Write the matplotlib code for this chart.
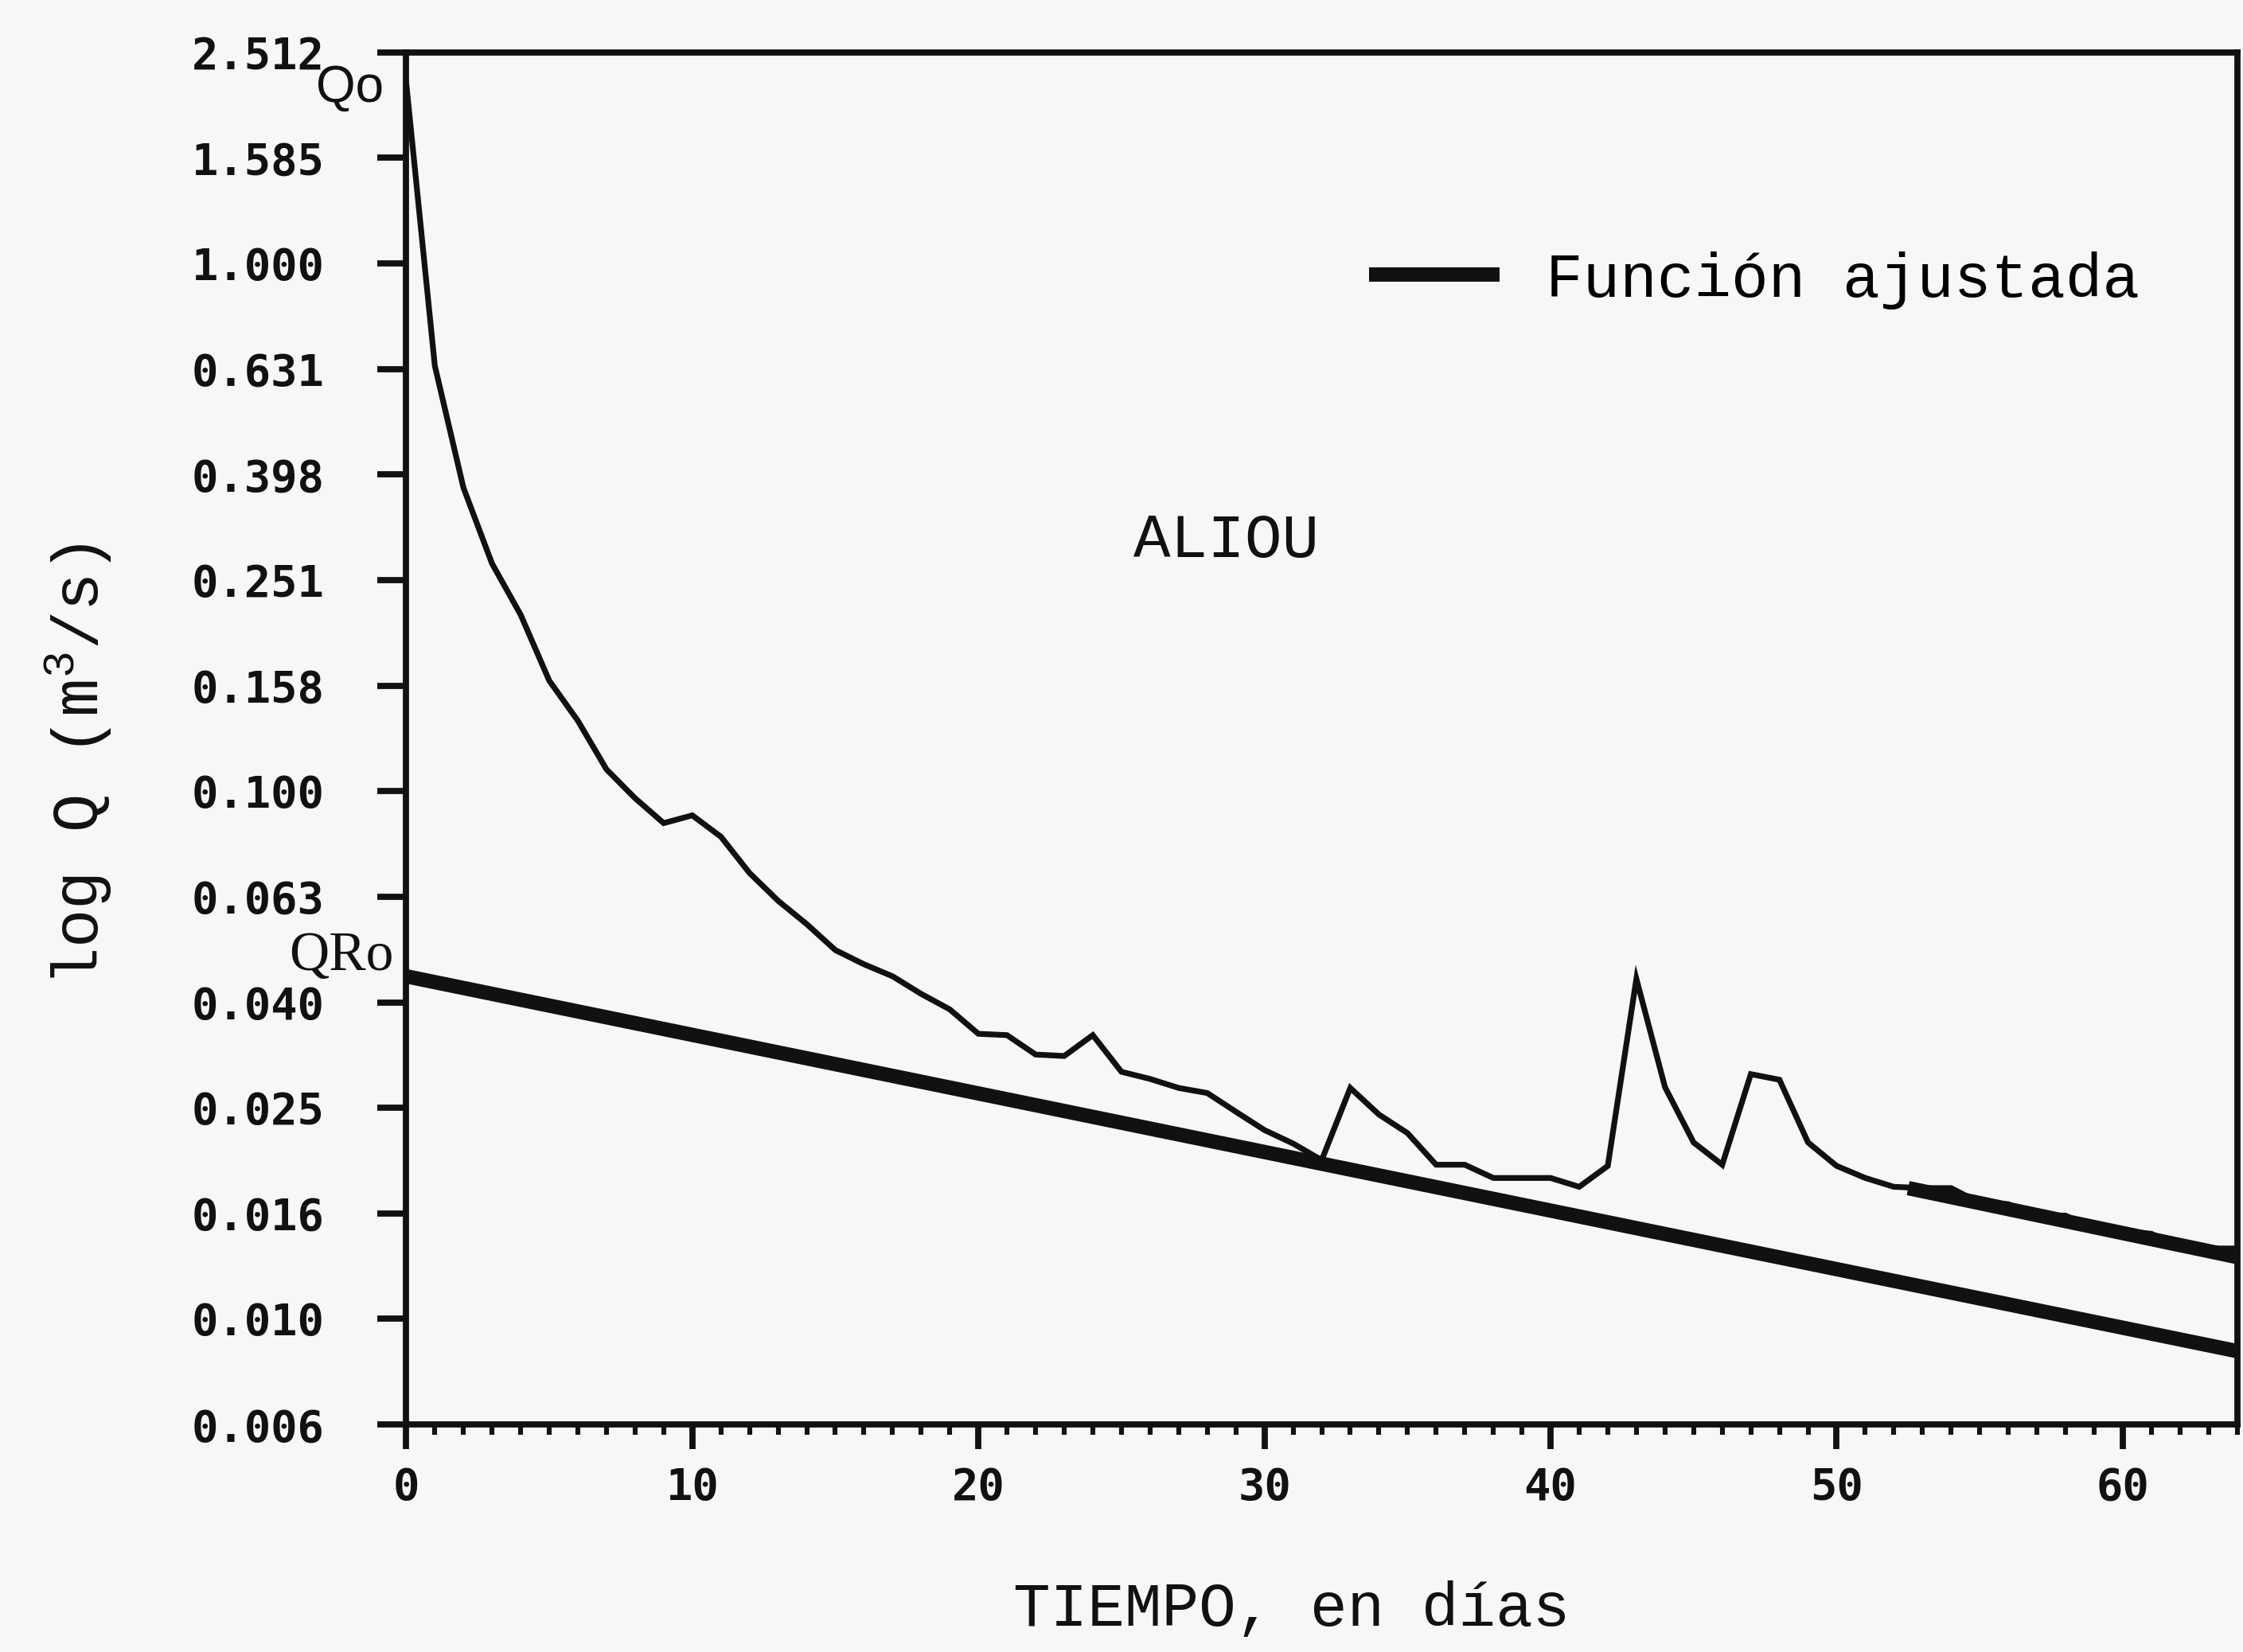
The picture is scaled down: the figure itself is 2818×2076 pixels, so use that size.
import matplotlib
matplotlib.use("Agg")
import matplotlib.pyplot as plt
from matplotlib.ticker import FixedLocator, NullLocator, MultipleLocator
import numpy as np

days = list(range(65))
caudal = [2.2, 0.64, 0.376, 0.270, 0.216, 0.162, 0.136, 0.110, 0.097, 0.087,
          0.090, 0.082, 0.070, 0.062, 0.056, 0.050, 0.047, 0.0446, 0.0413, 0.0386,
          0.0347, 0.0345, 0.0317, 0.0315, 0.0345, 0.0294, 0.0285, 0.0274, 0.0268, 0.0247,
          0.0228, 0.0215, 0.0200, 0.0274, 0.0244, 0.0225, 0.0196, 0.0196, 0.0185, 0.0185,
          0.0185, 0.0178, 0.0195, 0.0441, 0.0275, 0.0216, 0.0196, 0.0291, 0.0284, 0.0216,
          0.0195, 0.0185, 0.0178, 0.0177, 0.0177, 0.0166, 0.0165, 0.0157, 0.0157, 0.0148,
          0.0147, 0.0145, 0.0137, 0.0136, 0.0136]

# Función ajustada (recesión) y segundo tramo ajustado
fit_days = [0, 64]
fit_q = [0.0446, 0.00869]
fit2_days = [52.5, 64]
fit2_q = [0.0177, 0.0131]

y_tick_labels = ["0.006", "0.010", "0.016", "0.025", "0.040", "0.063", "0.100",
                 "0.158", "0.251", "0.398", "0.631", "1.000", "1.585", "2.512"]
x_tick_labels = ["0", "10", "20", "30", "40", "50", "60"]

plt.rcParams["mathtext.fontset"] = "custom"
plt.rcParams["mathtext.rm"] = "Liberation Mono"
plt.rcParams["mathtext.default"] = "rm"

ink = "#111111"
bg = "#f7f7f7"
fig = plt.figure(figsize=(14.09, 10.38), dpi=200, facecolor=bg)
ax = fig.add_axes([0.1811, 0.1377, 0.8163, 0.8306], facecolor=bg)

ax.plot(days, caudal, color=ink, lw=2.6, solid_joinstyle="miter")
fit_line, = ax.plot(fit_days, fit_q, color=ink, lw=6.5, solid_capstyle="butt")
ax.plot(fit2_days, fit2_q, color=ink, lw=6.5, solid_capstyle="butt")

# relleno negro entre la curva y el segundo tramo (como en el original)
d_tail = np.array(days[53:])
q_tail = np.array(caudal[53:])
q_fit2 = 10 ** np.interp(d_tail, fit2_days, np.log10(fit2_q))
ax.fill_between(d_tail, q_fit2, q_tail, where=q_tail >= q_fit2, color=ink, lw=0)

ax.set_yscale("log")
ax.set_xlim(0, 64)
ax.set_ylim(10 ** -2.2, 10 ** 0.4)

# ejes
for s in ax.spines.values():
    s.set_linewidth(2.8)
    s.set_color(ink)

yticks = 10 ** np.linspace(-2.2, 0.4, len(y_tick_labels))
ax.yaxis.set_major_locator(FixedLocator(yticks))
ax.yaxis.set_minor_locator(NullLocator())
ax.set_yticklabels(y_tick_labels)
ax.set_xticks(np.arange(0, 61, 10))
ax.set_xticklabels(x_tick_labels)
ax.xaxis.set_minor_locator(MultipleLocator(1))

for lab in ax.get_xticklabels() + ax.get_yticklabels():
    lab.set_fontfamily("DejaVu Sans Mono")
    lab.set_fontweight("bold")
    lab.set_fontsize(20)
    lab.set_color(ink)

ax.tick_params(axis="y", which="major", direction="out", length=13, width=2.8,
               pad=24, colors=ink)
ax.tick_params(axis="x", which="major", direction="out", length=11, width=2.8,
               pad=8, colors=ink)
ax.tick_params(axis="x", which="minor", direction="out", length=4.5, width=2.2,
               colors=ink)

mono = "Liberation Mono"
ax.text(0.448, 0.644, "ALIOU", transform=ax.transAxes, ha="center", va="center",
        fontsize=28, family=mono, color=ink)

leg = ax.legend([fit_line], ["Función ajustada"], loc="center left",
                bbox_to_anchor=(0.526, 0.834), frameon=False, borderpad=0,
                borderaxespad=0, handlelength=2.1, handletextpad=0.75,
                prop={"family": mono, "size": 28})

fig.text(0.156, 0.9465, "Qo", ha="center", va="center", fontsize=23,
         family="Liberation Sans", color=ink)
fig.text(0.152, 0.421, "QRo", ha="center", va="center", fontsize=25,
         family="Liberation Serif", color=ink)

fig.text(0.035, 0.537, "log Q (m$^3$/s)", rotation=90, ha="center", va="center",
         fontsize=29, family=mono, color=ink)
fig.text(0.576, 0.026, "TIEMPO, en días", ha="center", va="center",
         fontsize=28, family=mono, color=ink)

fig.savefig("out.png", dpi=200, facecolor=bg)
